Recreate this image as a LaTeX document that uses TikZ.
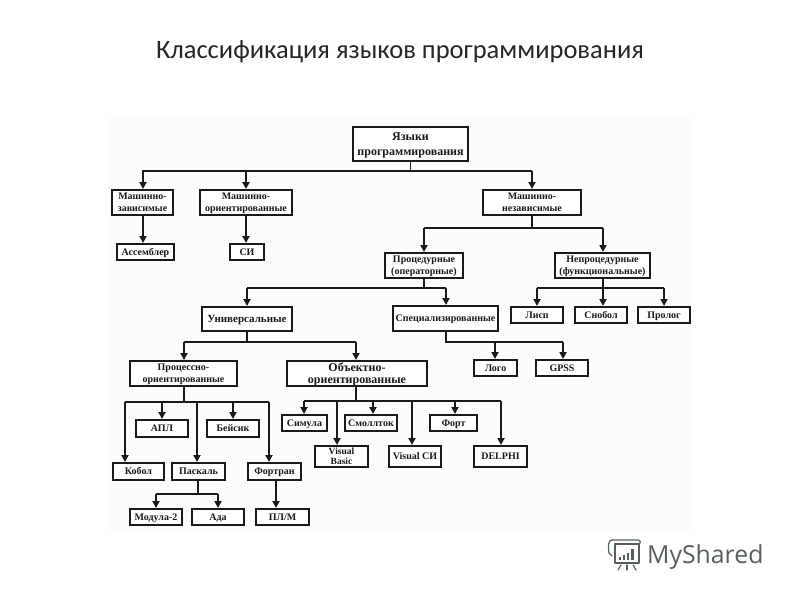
\documentclass[tikz,border=0pt]{standalone}
\usepackage{fontspec}
\setmainfont{Liberation Serif}
\newfontfamily\titlefont{Carlito}
\newfontfamily\logofont{Open Sans}
\usetikzlibrary{arrows.meta,calc}
\definecolor{ink}{HTML}{1A1A1A}
\definecolor{logoink}{HTML}{55605E}
\tikzset{
  x=1pt,y=-1pt,
  boxbase/.style={draw=ink,line width=1.8pt,fill=white,text=ink,inner sep=0pt,align=center,font=\bfseries\fontsize{10}{12}\selectfont},
  wire/.style={draw=ink,line width=1.8pt},
  arr/.style={wire,-{Triangle[width=7pt,length=7pt]}},
  logoline/.style={draw=logoink,line width=1.2pt,line cap=round,line join=round},
}
\newcommand{\tstrut}{\rule{0pt}{0.85em}}
\newcommand{\bstrut}{\rule[-0.25em]{0pt}{0.25em}}
% box from x1,y1 to x2,y2
\newcommand{\bx}[7][]{\node[boxbase,#1,minimum width={#4-(#2)-1.8},minimum height={#5-(#3)-1.8}] (#6) at ({(#2+#4)/2},{(#3+#5)/2}) {\tstrut #7\bstrut}}
\begin{document}
\begin{tikzpicture}
\useasboundingbox (0,0) rectangle (800,600);
\fill[white] (0,0) rectangle (800,600);
\fill[black!1] (108,118) rectangle (692,530);
\node[font=\titlefont\fontsize{26.5}{30}\selectfont,text=black!85,inner sep=0pt] (title) at (400,52) {Классификация языков программирования};

\bx[font=\bfseries\fontsize{12}{15}\selectfont]{352}{126}{469}{162}{root}{Языки\\программирования};
\bx{111}{189}{174}{216}{mz}{Машинно-\\зависимые};
\bx{199}{189}{293}{216}{mo}{Машинно-\\ориентированные};
\bx{482}{189}{582}{216}{mn}{Машинно-\\независимые};
\bx{116}{243}{175}{261}{asm}{Ассемблер};
\bx{229}{243}{265}{261}{si}{СИ};
\bx{384}{252}{464}{279}{proc}{Процедурные\\(операторные)};
\bx{554}{252}{651}{279}{nepr}{Непроцедурные\\(функциональные)};
\bx[font=\bfseries\fontsize{11}{13}\selectfont]{201}{306}{293}{332}{univ}{Универсальные};
\bx{392}{305}{499}{332}{spec}{Специализированные};
\bx{510}{306}{564}{324}{lisp}{Лисп};
\bx{574}{306}{628}{324}{snob}{Снобол};
\bx{637}{306}{691}{324}{prol}{Пролог};
\bx{473}{359}{518}{377}{logo}{Лого};
\bx{535}{359}{589}{377}{gpss}{GPSS};
\bx{129}{360}{238}{387}{po}{Процессно-\\ориентированные};
\bx[font=\bfseries\fontsize{12}{12}\selectfont]{286}{360}{428}{387}{oo}{Объектно-\\ориентированные};
\bx{135}{419}{189}{438}{apl}{АПЛ};
\bx{206}{419}{260}{438}{bas}{Бейсик};
\bx{112}{462}{165}{481}{kob}{Кобол};
\bx{171}{462}{226}{481}{pas}{Паскаль};
\bx{247}{462}{302}{481}{fort}{Фортран};
\bx{129}{508}{183}{526}{mod}{Модула-2};
\bx{191}{508}{245}{526}{ada}{Ада};
\bx{255}{508}{310}{526}{plm}{ПЛ/М};
\bx{281}{414}{328}{432}{sim}{Симула};
\bx{344}{414}{398}{432}{sma}{Смоллток};
\bx{429}{414}{478}{432}{fo}{Форт};
\bx[font=\bfseries\fontsize{9.5}{10.5}\selectfont]{314}{445}{369}{468}{vb}{Visual\\Basic};
\bx{388}{445}{442}{468}{vs}{Visual СИ};
\bx{473}{445}{528}{468}{del}{DELPHI};

% junction coordinates
\coordinate (b1L) at (143,171); \coordinate (b1M) at (246,171); \coordinate (b1R) at (532,171);
\draw[wire] (root.south) -- (root.south |- b1L);
\draw[arr] (b1R) -- (b1L) -- (b1L |- mz.north);
\draw[arr] (b1M) -- (b1M |- mo.north);
\draw[arr] (b1R) -- (b1R |- mn.north);
\draw[arr] (b1L |- mz.south) -- (b1L |- asm.north);
\draw[arr] (b1M |- mo.south) -- (b1M |- si.north);

\coordinate (b2L) at (424,228); \coordinate (b2R) at (603,228);
\draw[wire] (b1R |- mn.south) -- (b1R |- b2L);
\draw[wire] (b2R) -- (b2L);
\draw[arr] (b2L) -- (b2L |- proc.north);
\draw[arr] (b2R) -- (b2R |- nepr.north);

\coordinate (b3L) at (247,288); \coordinate (b3R) at (446,288);
\draw[wire] (b2L |- proc.south) -- (b2L |- b3L);
\draw[wire] (b3R) -- (b3L);
\draw[arr] (b3L) -- (b3L |- univ.north);
\draw[arr] (b3R) -- (b3R |- spec.north);

\coordinate (b4L) at (537,288); \coordinate (b4M) at (603,288); \coordinate (b4R) at (664,288);
\draw[wire] (b4M |- nepr.south) -- (b4M);
\draw[wire] (b4R) -- (b4L);
\draw[arr] (b4L) -- (b4L |- lisp.north);
\draw[arr] (b4M) -- (b4M |- snob.north);
\draw[arr] (b4R) -- (b4R |- prol.north);

\coordinate (b5L) at (446,342); \coordinate (b5M) at (495,342); \coordinate (b5R) at (563,342);
\draw[wire] (b5L |- spec.south) -- (b5L) -- (b5R);
\draw[arr] (b5R) -- (b5R |- gpss.north);
\draw[arr] (b5M) -- (b5M |- logo.north);

\coordinate (b6L) at (184,342); \coordinate (b6R) at (356,342);
\draw[wire] (b3L |- univ.south) -- (b3L |- b6L);
\draw[wire] (b6R) -- (b6L);
\draw[arr] (b6L) -- (b6L |- po.north);
\draw[arr] (b6R) -- (b6R |- oo.north);

\coordinate (b7L) at (125,402); \coordinate (b7R) at (269,402);
\draw[wire] (b6L |- po.south) -- (b6L |- b7L);
\draw[wire] (b7R) -- (b7L);
\draw[arr] (b7L) -- (b7L |- kob.north);
\draw[arr] (b7R) -- (b7R |- fort.north);
\coordinate (j1) at (162,402); \draw[arr] (j1) -- (j1 |- apl.north);
\coordinate (j2) at (233,402); \draw[arr] (j2) -- (j2 |- bas.north);
\coordinate (j3) at (197,402); \draw[arr] (j3) -- (j3 |- pas.north);

\coordinate (b8L) at (156,494); \coordinate (b8R) at (218,494); \coordinate (b8S) at (198,494);
\draw[wire] (b8S |- pas.south) -- (b8S);
\draw[wire] (b8R) -- (b8L);
\draw[arr] (b8L) -- (b8L |- mod.north);
\draw[arr] (b8R) -- (b8R |- ada.north);
\coordinate (j4) at (276,494);
\draw[arr] (j4 |- fort.south) -- (j4 |- plm.north);

\coordinate (b9L) at (304,401); \coordinate (b9R) at (501,401);
\draw[wire] (b6R |- oo.south) -- (b6R |- b9L);
\draw[wire] (b9R) -- (b9L);
\draw[arr] (b9L) -- (b9L |- sim.north);
\draw[arr] (b9R) -- (b9R |- del.north);
\coordinate (j5) at (337,401); \draw[arr] (j5) -- (j5 |- vb.north);
\coordinate (j6) at (373,401); \draw[arr] (j6) -- (j6 |- sma.north);
\coordinate (j7) at (412,401); \draw[arr] (j7) -- (j7 |- vs.north);
\coordinate (j8) at (455,401); \draw[arr] (j8) -- (j8 |- fo.north);

% watermark
\draw[logoline] (615,544) rectangle (639,563);
\draw[logoline] (612,540) -- (638,540) .. controls (641,540) and (641,544) .. (638,544) -- (615,544);
\draw[logoline] (612,540) .. controls (608,540) and (608,546) .. (609,553) -- (612,556);
\fill[logoink] (619,557) rectangle (621,560);
\fill[logoink] (623,555) rectangle (625,560);
\fill[logoink] (627,553) rectangle (629,560);
\fill[logoink] (631,549) rectangle (634,560);
\draw[logoline] (621,565) -- (618,570);
\draw[logoline] (627,565) -- (627,570);
\draw[logoline] (633,565) -- (636,570);
\node[font=\logofont\fontsize{24.8}{28}\selectfont,text=logoink,inner sep=0pt,anchor=base west] (brand) at (647,563) {MyShared};
\end{tikzpicture}
\end{document}
